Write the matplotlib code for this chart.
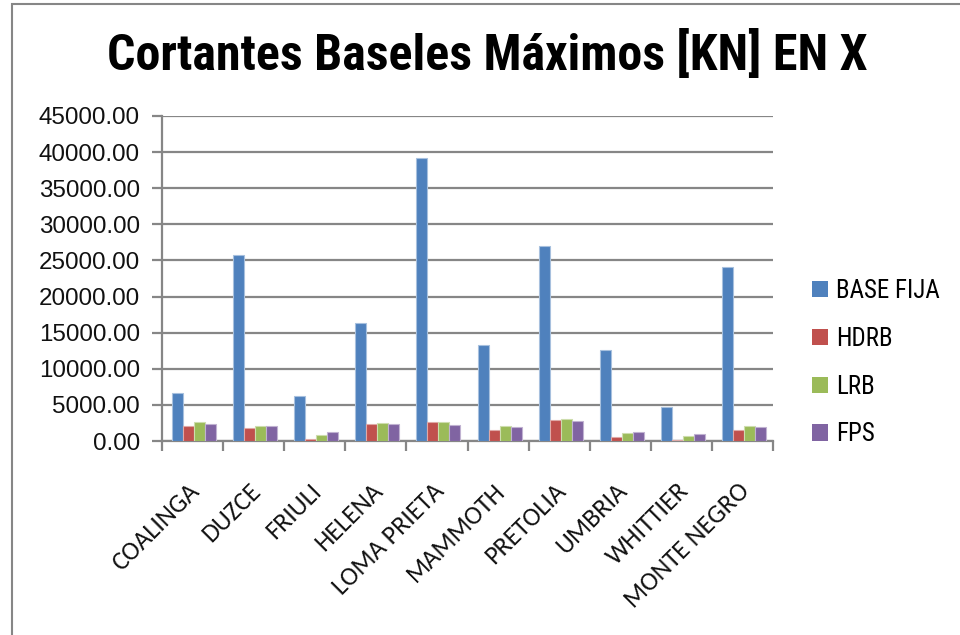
import matplotlib
matplotlib.use("Agg")
import matplotlib.pyplot as plt
import numpy as np
from matplotlib.patches import Rectangle
from matplotlib.ticker import FormatStrFormatter, FixedLocator

# Earthquake records and maximum base shear per isolation system [kN]
registros = ["COALINGA", "DUZCE", "FRIULI", "HELENA", "LOMA PRIETA",
             "MAMMOTH", "PRETOLIA", "UMBRIA", "WHITTIER", "MONTE NEGRO"]
base_fija = [6700, 25700, 6280, 16320, 39250, 13280, 26950, 12540, 4770, 24130]
hdrb = [2010, 1830, 320, 2420, 2660, 1560, 2930, 550, 180, 1520]
lrb = [2660, 2110, 830, 2560, 2660, 2070, 3070, 1100, 730, 2070]
fps = [2340, 2110, 1280, 2340, 2250, 1970, 2760, 1280, 1010, 1870]

series_names = ["BASE FIJA", "HDRB", "LRB", "FPS"]
series_vals = [base_fija, hdrb, lrb, fps]
colores = ["#4F81BD", "#C0504D", "#9BBB59", "#8064A2"]
bordes = ["#A7C0DE", "#DFA9A7", "#CDDDAD", "#C0B2D1"]
y_ticks = [0, 5000, 10000, 15000, 20000, 25000, 30000, 35000, 40000, 45000]

NARROW = ["Roboto Condensed", "Archivo Narrow", "DejaVu Sans"]

W, H = 960, 635
fig = plt.figure(figsize=(W / 100, H / 100), dpi=100)
fig.patch.set_facecolor("white")

# outer chart frame
fig.patches.append(Rectangle((12 / W, -0.1), 1.2, 1.1 - 4 / H,
                             transform=fig.transFigure, fill=False,
                             edgecolor="#868686", linewidth=1.5))

ax = fig.add_axes([162 / W, 1 - 441 / H, (773 - 162) / W, (441 - 116) / H])

x = np.arange(len(registros))
bw = 0.18
offsets = (np.arange(len(series_names)) - 1.5) * bw + 0.025
for name, vals, c, ec, off in zip(series_names, series_vals, colores, bordes, offsets):
    ax.bar(x + off, vals, width=bw, color=c, edgecolor=ec, linewidth=0.8,
           label=name, zorder=3)

grid_c = "#868686"
ax.set_xlim(-0.5, len(registros) - 0.5)
ax.set_ylim(0, 45000)
ax.set_yticks(y_ticks)
ax.yaxis.set_major_formatter(FormatStrFormatter("%.2f"))
ax.yaxis.grid(True, color=grid_c, linewidth=1.6, zorder=0)
ax.set_axisbelow(True)

for side in ["top", "right"]:
    ax.spines[side].set_visible(False)
for side in ["left", "bottom"]:
    ax.spines[side].set_color(grid_c)
    ax.spines[side].set_linewidth(1.6)

ax.tick_params(axis="y", direction="out", length=7, width=1.6, color=grid_c,
               pad=9, labelsize=17.4, labelcolor="#111111")
for t in ax.get_yticklabels():
    t.set_fontfamily(["Liberation Sans", "DejaVu Sans"])

# category boundaries carry the tick marks, centers carry the labels
ax.set_xticks(x + 0.05)
ax.xaxis.set_minor_locator(FixedLocator(np.arange(-0.5, len(registros), 1.0)))
ax.tick_params(axis="x", which="minor", direction="out", length=7, width=1.6,
               color=grid_c)
ax.tick_params(axis="x", which="major", length=0, pad=33)
ax.set_xticklabels(registros, rotation=45, ha="right", va="center",
                   rotation_mode="anchor", fontsize=18.8,
                   fontfamily=["Carlito", "Lato", "DejaVu Sans"],
                   color="#111111")

fig.text(487 / W, 1 - 55 / H, "Cortantes Baseles Máximos [KN] EN X",
         ha="center", va="center", fontsize=36, fontweight="bold",
         fontfamily=NARROW, color="black")

leg = ax.legend(loc="upper left", bbox_to_anchor=(812 / W, 1 - 279 / H),
                bbox_transform=fig.transFigure, frameon=False,
                prop={"family": NARROW, "size": 18},
                handlelength=0.62, handleheight=0.62, handletextpad=0.35,
                labelspacing=0.95, borderpad=0, borderaxespad=0)
for h in leg.legend_handles:
    h.set_edgecolor("none")

fig.savefig("out.png", dpi=100, facecolor="white")
